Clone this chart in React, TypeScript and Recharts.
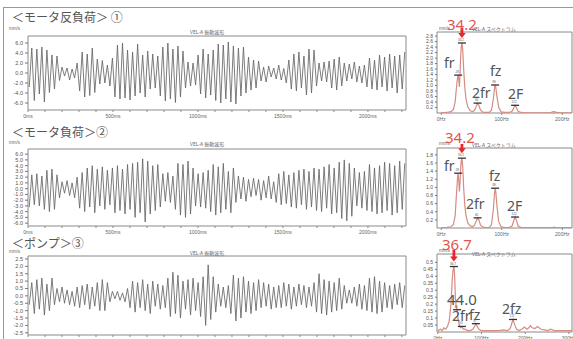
import React from "react";
import { LineChart, Line, XAxis, YAxis, ReferenceArea, ReferenceDot } from "recharts";

// waveform extremes, one peak / trough after the other (mm/s)
const noLoadWave = [
  -2.8, 5.0, -5.5, 4.8, -4.2, 5.2, -5.8, 4.6, -3.9, 3.6,
  -3.2, 3.4, -1.5, 1.2, -0.6, 1.0, -1.4, 0.8, -1.0, 2.0,
  -3.6, 4.2, -4.8, 3.8, -4.5, 5.0, -3.9, 2.8, -2.2, 2.5,
  -2.0, 1.6, -2.6, 3.0, -4.8, 5.6, -5.2, 6.0, -5.0, 4.6,
  -5.4, 4.2, -4.6, 5.8, -4.0, 3.6, -4.8, 4.4, -3.2, 3.8,
  -3.0, 3.4, -4.6, 5.2, -5.6, 6.0, -5.2, 4.8, -5.9, 5.4,
  -4.8, 4.4, -3.0, 2.2, -2.6, 2.0, -2.4, 3.6, -4.2, 4.8,
  -5.0, 3.8, -4.4, 4.6, -5.5, 5.8, -6.0, 5.6, -5.2, 6.2,
  -5.8, 5.4, -6.2, 5.0, -4.6, 5.2, -4.0, 3.2, -3.4, 2.6,
  -3.0, 2.4, -1.6, 1.2, -1.8, 1.4, -0.8, 1.0, -1.2, 1.6,
  -1.4, 0.9, -2.0, 2.6, -3.2, 3.8, -3.6, 4.2, -3.0, 3.4,
  -4.4, 4.8, -4.0, 4.6, -2.6, 2.0, -1.6, 2.2, -1.8, 2.4,
  -3.0, 2.8, -3.4, 3.2, -2.6, 2.0, -1.6, 1.8, -1.2, 2.2,
  -1.8, 1.4, -2.0, 1.6, -2.8, 3.0, -3.2, 2.6, -3.4, 3.6,
  -2.8, 3.2, -3.6, 3.8, -3.0, 3.4, -4.0, 3.6, -3.2, 4.2,
];

const loadWave = [
  -3.2, 2.4, -2.8, 2.6, -3.0, 2.2, -3.6, 3.2, -4.0, 3.4,
  -3.6, 2.4, -1.6, 1.2, -0.8, 1.4, -1.2, 1.0, -1.6, 2.0,
  -3.4, 2.8, -4.0, 3.6, -3.2, 4.0, -4.2, 3.4, -3.0, 3.8,
  -3.6, 3.2, -2.8, 3.6, -4.2, 4.0, -3.8, 3.4, -4.4, 4.2,
  -3.6, 4.4, -5.0, 4.6, -4.2, 5.2, -5.8, 4.8, -4.4, 4.0,
  -3.8, 4.2, -3.2, 2.6, -2.2, 2.8, -2.4, 2.2, -3.6, 4.4,
  -4.6, 4.2, -5.0, 4.8, -4.4, 3.6, -3.0, 2.6, -3.2, 2.8,
  -3.4, 3.2, -4.0, 4.2, -4.6, 3.8, -4.2, 4.4, -3.6, 3.0,
  -4.2, 3.6, -2.4, 2.2, -1.8, 2.0, -2.2, 1.6, -1.4, 1.8,
  -1.2, 1.6, -2.0, 1.4, -1.6, 2.2, -1.8, 1.2, -2.4, 2.6,
  -2.8, 3.0, -2.6, 2.4, -3.2, 2.8, -3.4, 3.2, -2.8, 3.4,
  -3.6, 3.0, -3.2, 3.6, -3.8, 3.4, -4.0, 3.8, -3.4, 4.2,
  -4.4, 3.6, -4.2, 4.6, -5.2, 5.0, -5.6, 4.4, -4.8, 3.6,
  -3.0, 2.8, -3.4, 3.0, -3.8, 4.2, -4.0, 3.6, -4.4, 4.0,
  -4.2, 4.6, -3.8, 4.4, -4.6, 4.0, -4.2, 4.8, -3.6, 4.4,
];

const pumpWave = [
  -0.6, 0.9, -1.2, 1.1, -0.9, 1.2, -1.3, 0.8, -1.0, 1.2,
  -0.6, 0.5, -0.4, 0.6, -0.5, 0.4, -0.6, 0.3, -0.7, 0.6,
  -0.8, 0.7, -0.6, 0.8, -0.9, 0.6, -0.7, 0.9, -1.0, 1.1,
  -1.0, 0.9, -0.4, 0.3, -0.2, 0.3, -0.3, 0.2, -0.4, 0.5,
  -0.8, 1.0, -1.1, 0.9, -0.8, 1.1, -1.0, 0.8, -1.2, 1.0,
  -0.7, 0.8, -0.9, 0.7, -0.8, 1.2, -1.4, 1.6, -1.2, 1.4,
  -1.5, 1.0, -0.9, 1.1, -1.3, 1.2, -1.0, 0.9, -1.4, 1.3,
  -2.0, 2.1, -1.6, 1.3, -1.1, 0.8, -0.7, 0.6, -0.8, 0.7,
  -1.2, 1.4, -1.7, 1.2, -1.5, 1.3, -1.1, 1.0, -1.2, 0.9,
  -1.0, 1.1, -0.8, 0.9, -0.7, 0.8, -0.9, 0.6, -0.8, 0.7,
  -0.8, 0.9, -0.7, 0.8, -0.9, 0.6, -0.7, 0.8, -0.6, 0.7,
  -0.8, 0.6, -0.7, 0.9, -1.1, 1.5, -1.2, 1.1, -1.3, 1.0,
  -1.1, 0.9, -1.0, 1.2, -0.9, 0.7, -0.5, 0.4, -0.5, 0.6,
  -0.7, 0.8, -0.9, 0.7, -1.0, 1.2, -1.1, 1.3, -1.2, 1.0,
  -1.1, 0.9, -0.8, 0.7, -0.9, 0.8, -0.6, 0.9, -0.8, 0.7,
];

const WAVE_SPAN = 2224; // ms across the plot box
const waveMsTicks = [0, 100, 200, 300, 400, 500, 600, 700, 800, 900, 1000, 1100, 1200, 1300, 1400, 1500, 1600, 1700, 1800, 1900, 2000, 2100, 2200];

// spectra
const motorHz = [
  0, 4, 8, 12, 16, 20, 23, 25, 27, 28,
  29, 30, 31, 32, 33, 34.2, 35.5, 37, 39, 41,
  44, 48, 52, 55, 58, 60, 62, 65, 69, 74,
  79, 83, 86, 88, 89, 90, 92, 95, 99, 105,
  112, 117, 120, 122, 124, 127, 132, 140, 155, 170,
  180, 184, 186, 189, 195, 205, 216,
];
const noLoadAmp = [
  0.02, 0.01, 0.02, 0.03, 0.05, 0.12, 0.4, 0.9, 1.3, 1.38,
  1.2, 0.95, 1.4, 2.0, 2.4, 2.55, 2.3, 1.6, 0.9, 0.5,
  0.22, 0.08, 0.05, 0.1, 0.25, 0.36, 0.28, 0.1, 0.03, 0.02,
  0.02, 0.1, 0.5, 0.9, 1.02, 0.95, 0.6, 0.2, 0.04, 0.02,
  0.02, 0.06, 0.2, 0.28, 0.2, 0.06, 0.02, 0.01, 0.01, 0.01,
  0.01, 0.04, 0.05, 0.03, 0.01, 0.01, 0.01,
];
const loadAmp = [
  0.01, 0.01, 0.01, 0.02, 0.03, 0.08, 0.3, 0.8, 1.25, 1.35,
  1.15, 0.9, 1.1, 1.45, 1.65, 1.72, 1.5, 1.0, 0.55, 0.3,
  0.12, 0.05, 0.03, 0.07, 0.18, 0.25, 0.2, 0.07, 0.02, 0.01,
  0.01, 0.08, 0.45, 0.85, 0.98, 0.9, 0.55, 0.15, 0.03, 0.01,
  0.01, 0.05, 0.19, 0.27, 0.2, 0.05, 0.01, 0.01, 0.01, 0.01,
  0.01, 0.01, 0.02, 0.01, 0.01, 0.01, 0.01,
];
const pumpHz = [
  0, 6, 10, 14, 18, 22, 26, 30, 33, 35,
  36.7, 38.5, 40, 42, 44, 46, 49, 52, 55, 58,
  62, 68, 74, 80, 84, 87, 90, 94, 100, 110,
  120, 130, 140, 150, 160, 166, 170, 172, 175, 180,
  186, 192, 198, 204, 208, 212, 216, 222, 228, 236,
  244, 252, 258, 266, 276, 290, 307,
];
const pumpAmp = [
  0.01, 0.02, 0.01, 0.03, 0.02, 0.04, 0.08, 0.2, 0.38, 0.45,
  0.47, 0.4, 0.25, 0.18, 0.16, 0.1, 0.05, 0.03, 0.04, 0.02,
  0.02, 0.01, 0.01, 0.02, 0.04, 0.06, 0.04, 0.02, 0.01, 0.01,
  0.01, 0.01, 0.01, 0.015, 0.01, 0.03, 0.07, 0.09, 0.06, 0.02,
  0.01, 0.02, 0.035, 0.02, 0.03, 0.045, 0.03, 0.025, 0.04, 0.02,
  0.015, 0.01, 0.02, 0.01, 0.01, 0.01, 0.01,
];

// marked peaks (first one gets the red arrow)
const noLoadPeakHz = [34.2, 28, 60, 89, 122];
const noLoadPeakAmp = [2.55, 1.38, 0.36, 1.02, 0.28];
const loadPeakHz = [34.2, 28, 60, 89, 122];
const loadPeakAmp = [1.72, 1.35, 0.25, 0.98, 0.27];
const pumpPeakHz = [36.7, 44, 55, 87, 172];
const pumpPeakAmp = [0.47, 0.16, 0.04, 0.06, 0.09];

const tinyFont = "'Liberation Sans', Arial, sans-serif";
const annFont = "'Noto Sans', sans-serif";
const jp = "'Noto Sans CJK JP', sans-serif";

function WavePanel({ top, bottom, values, domain, ticks, digits }: any) {
  const data = values.map((v: number, i: number) => ({ t: ((i + 0.5) * WAVE_SPAN) / values.length, v }));
  const h = 6 + (bottom - top) + 12;
  return (
    <div style={{ position: "absolute", left: 0, top: top - 6 }}>
      <LineChart width={410} height={h} data={data} margin={{ top: 6, right: 4, bottom: 0, left: 0 }}>
        <XAxis
          dataKey="t"
          type="number"
          domain={[0, WAVE_SPAN]}
          allowDataOverflow
          ticks={waveMsTicks}
          interval={0}
          tickFormatter={(v: number) => (v % 500 === 0 ? `${v}ms` : "")}
          tick={{ fontSize: 5, fill: "#666", fontFamily: tinyFont }}
          tickSize={2}
          tickLine={{ stroke: "#888" }}
          axisLine={false}
          height={12}
        />
        <YAxis
          type="number"
          domain={domain}
          allowDataOverflow
          ticks={ticks}
          interval={0}
          tickFormatter={(v: number) => v.toFixed(digits)}
          width={28}
          tick={{ fontSize: 5.5, fill: "#555", fontFamily: tinyFont }}
          tickSize={3}
          tickLine={{ stroke: "#777" }}
          axisLine={false}
        />
        <ReferenceArea x1={0} x2={WAVE_SPAN} y1={domain[0]} y2={domain[1]} fill="none" stroke="#8a8a8a" strokeWidth={1} />
        <Line dataKey="v" type="linear" stroke="#666" strokeWidth={0.85} dot={false} isAnimationActive={false} />
      </LineChart>
    </div>
  );
}

function PeakMark(props: any) {
  const { cx, cy, tag, arrow } = props;
  return (
    <g>
      {arrow && (
        <path
          d={`M${cx - 1.4},${cy - 17} L${cx + 1.4},${cy - 17} L${cx + 1.4},${cy - 10} L${cx + 3.8},${cy - 10} L${cx},${cy - 5} L${cx - 3.8},${cy - 10} L${cx - 1.4},${cy - 10} Z`}
          fill="#e8262a"
        />
      )}
      <text x={cx - 1} y={cy - 2} fontSize={3} textAnchor="middle" fill="#555" fontFamily={tinyFont}>
        {tag}
      </text>
      <line x1={cx - 4} x2={cx + 4} y1={cy} y2={cy} stroke="#333" strokeWidth={1.3} />
    </g>
  );
}

function SpecPanel({ top, bottom, hz, amp, xDomain, xTicks, yDomain, yTicks, fmt, peakHz, peakAmp }: any) {
  const data = hz.map((f: number, i: number) => ({ f, a: amp[i] }));
  const h = 4 + (bottom - top) + 10;
  return (
    <div style={{ position: "absolute", left: 417, top: top - 4 }}>
      <LineChart width={156} height={h} data={data} margin={{ top: 4, right: 1, bottom: 0, left: 0 }}>
        <XAxis
          dataKey="f"
          type="number"
          domain={xDomain}
          allowDataOverflow
          ticks={xTicks}
          interval={0}
          tickFormatter={(v: number) => `${v}Hz`}
          tick={{ fontSize: 5, fill: "#666", fontFamily: tinyFont }}
          tickSize={2}
          tickLine={{ stroke: "#888" }}
          axisLine={false}
          height={10}
        />
        <YAxis
          type="number"
          domain={yDomain}
          allowDataOverflow
          ticks={yTicks}
          interval={0}
          tickFormatter={fmt}
          width={20}
          tick={{ fontSize: 5, fill: "#555", fontFamily: tinyFont }}
          tickSize={2}
          tickLine={{ stroke: "#777" }}
          axisLine={false}
        />
        <ReferenceArea x1={xDomain[0]} x2={xDomain[1]} y1={yDomain[0]} y2={yDomain[1]} fill="none" stroke="#8a8a8a" strokeWidth={1} />
        <Line dataKey="a" type="linear" stroke="#d58c82" strokeWidth={1.2} dot={false} isAnimationActive={false} />
        {peakHz.map((f: number, i: number) => (
          <ReferenceDot
            key={i}
            x={f}
            y={peakAmp[i]}
            shape={(p: any) => <PeakMark {...p} tag={String(f)} arrow={i === 0} />}
          />
        ))}
      </LineChart>
    </div>
  );
}

const txt = (s: string, left: number, top: number, size: number, color: string, font = annFont) => (
  <div
    style={{
      position: "absolute",
      left,
      top,
      fontSize: size,
      lineHeight: 1,
      color,
      fontFamily: font,
      whiteSpace: "nowrap",
    }}
  >
    {s}
  </div>
);

export default function App() {
  const one = (v: number) => v.toFixed(1);
  const two = (v: number) => String(Number(v.toFixed(2)));
  return (
    <div style={{ position: "absolute", left: 0, top: 0, width: 573, height: 339, background: "#fff", overflow: "hidden" }}>
      <div style={{ position: "absolute", left: 3, top: 7, width: 600, height: 400, border: "1px solid #999" }} />

      {txt("＜モータ反負荷＞ ①", 12, 11, 12, "#555", jp)}
      {txt("＜モータ負荷＞②", 12, 126, 12, "#555", jp)}
      {txt("＜ポンプ＞③", 12, 237, 12, "#555", jp)}

      {txt("mm/s", 9, 27, 4.5, "#666", tinyFont)}
      {txt("mm/s", 9, 141, 4.5, "#666", tinyFont)}
      {txt("mm/s", 9, 250, 4.5, "#666", tinyFont)}
      {txt("VEL-A 振動波形", 190, 29, 5, "#666", jp)}
      {txt("VEL-A 振動波形", 190, 141, 5, "#666", jp)}
      {txt("VEL-A 振動波形", 190, 250, 5, "#666", jp)}

      {txt("mm/s", 439, 27, 4.5, "#666", tinyFont)}
      {txt("mm/s", 439, 142, 4.5, "#666", tinyFont)}
      {txt("mm/s", 439, 249, 4.5, "#666", tinyFont)}
      {txt("VEL-A スペクトラム", 472, 26, 5, "#666", jp)}
      {txt("VEL-A スペクトラム", 472, 142, 5, "#666", jp)}
      {txt("VEL-A スペクトラム", 472, 251, 5, "#666", jp)}

      <WavePanel top={36} bottom={110} values={noLoadWave} domain={[-7.4, 7.4]} ticks={[-6, -4, -2, 0, 2, 4, 6]} digits={1} />
      <WavePanel top={149} bottom={226} values={loadWave} domain={[-6.5, 6.9]} ticks={[-6, -5, -4, -3, -2, -1, 0, 1, 2, 3, 4, 5, 6]} digits={1} />
      <WavePanel top={256} bottom={335} values={pumpWave} domain={[-2.65, 2.7]} ticks={[-2.5, -2, -1.5, -1, -0.5, 0, 0.5, 1, 1.5, 2, 2.5]} digits={1} />

      <SpecPanel
        top={32} bottom={113} hz={motorHz} amp={noLoadAmp}
        xDomain={[-7, 216]} xTicks={[0, 100, 200]}
        yDomain={[0, 2.95]} yTicks={[0.2, 0.4, 0.6, 0.8, 1.0, 1.2, 1.4, 1.6, 1.8, 2.0, 2.2, 2.4, 2.6, 2.8]} fmt={one}
        peakHz={noLoadPeakHz} peakAmp={noLoadPeakAmp}
      />
      <SpecPanel
        top={148} bottom={228} hz={motorHz} amp={loadAmp}
        xDomain={[-7, 216]} xTicks={[0, 100, 200]}
        yDomain={[0, 1.97]} yTicks={[0.2, 0.4, 0.6, 0.8, 1.0, 1.2, 1.4, 1.6, 1.8]} fmt={one}
        peakHz={loadPeakHz} peakAmp={loadPeakAmp}
      />
      <SpecPanel
        top={254} bottom={332} hz={pumpHz} amp={pumpAmp}
        xDomain={[-2, 307]} xTicks={[0, 100, 200, 300]}
        yDomain={[0, 0.56]} yTicks={[0.05, 0.1, 0.15, 0.2, 0.25, 0.3, 0.35, 0.4, 0.45, 0.5]} fmt={two}
        peakHz={pumpPeakHz} peakAmp={pumpPeakAmp}
      />

      {txt("34.2", 447, 17, 15, "#e4544f")}
      {txt("fr", 444, 56, 14, "#555")}
      {txt("2fr", 472, 86, 14, "#555")}
      {txt("fz", 490, 64, 14, "#555")}
      {txt("2F", 508, 87, 14, "#555")}

      {txt("34.2", 445, 130, 15, "#e4544f")}
      {txt("fr", 444, 159, 14, "#555")}
      {txt("2fr", 466, 197, 14, "#555")}
      {txt("fz", 489, 169, 14, "#555")}
      {txt("2F", 507, 199, 14, "#555")}

      {txt("36.7", 442, 237, 15, "#e4544f")}
      {txt("44.0", 447, 292, 15, "#555")}
      {txt("2fr", 452, 309, 14, "#555")}
      {txt("fz", 469, 308, 14, "#555")}
      {txt("2fz", 502, 302, 14, "#555")}
    </div>
  );
}
